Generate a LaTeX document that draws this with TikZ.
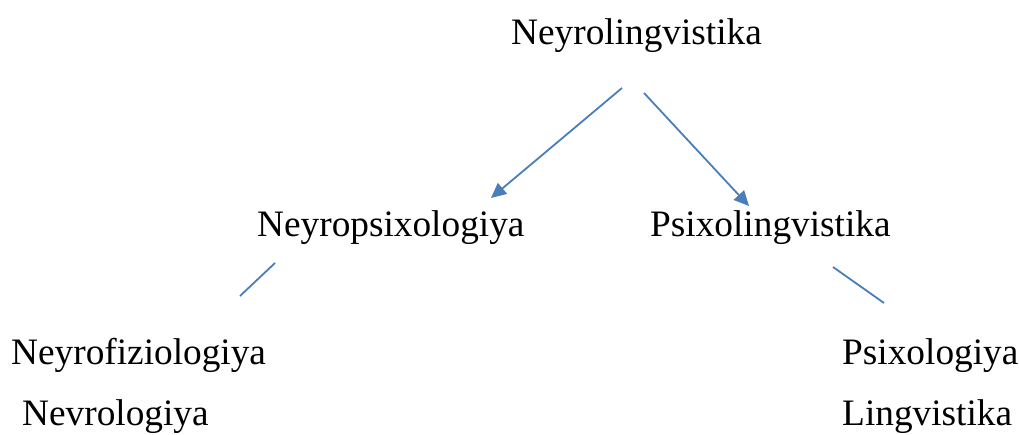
\documentclass[tikz,border=0pt]{standalone}
\usepackage{fontspec}
\setmainfont{Liberation Serif}
\usetikzlibrary{arrows.meta}
\definecolor{lineblue}{HTML}{4A7EBB}
\begin{document}
\begin{tikzpicture}[x=1pt,y=-1pt,
  lbl/.style={inner sep=0pt,font=\fontsize{37.3}{42}\selectfont,anchor=base west},
  conn/.style={draw=lineblue,line width=1.8pt},
  arr/.style={conn,-{Triangle[length=15pt,width=14pt]}}]
\useasboundingbox (0,0) rectangle (1019,435);
\node[lbl] (top) at (511,45) {Neyrolingvistika};
\node[lbl] (np) at (257,237) {Neyropsixologiya};
\node[lbl] (pl) at (650,237) {Psixolingvistika};
\node[lbl] (nf) at (11,364) {Neyrofiziologiya};
\node[lbl] (nv) at (22,425) {Nevrologiya};
\node[lbl] (ps) at (842,364) {Psixologiya};
\node[lbl] (li) at (842,425) {Lingvistika};
\coordinate (a1s) at (622,88);
\coordinate (a1e) at (491,198);
\coordinate (a2s) at (644,93);
\coordinate (a2e) at (749,206);
\coordinate (l1s) at (275,263);
\coordinate (l1e) at (240,296);
\coordinate (l2s) at (833,267);
\coordinate (l2e) at (884,303);
\draw[arr] (a1s) -- (a1e);
\draw[arr] (a2s) -- (a2e);
\draw[conn] (l1s) -- (l1e);
\draw[conn] (l2s) -- (l2e);
\end{tikzpicture}
\end{document}
